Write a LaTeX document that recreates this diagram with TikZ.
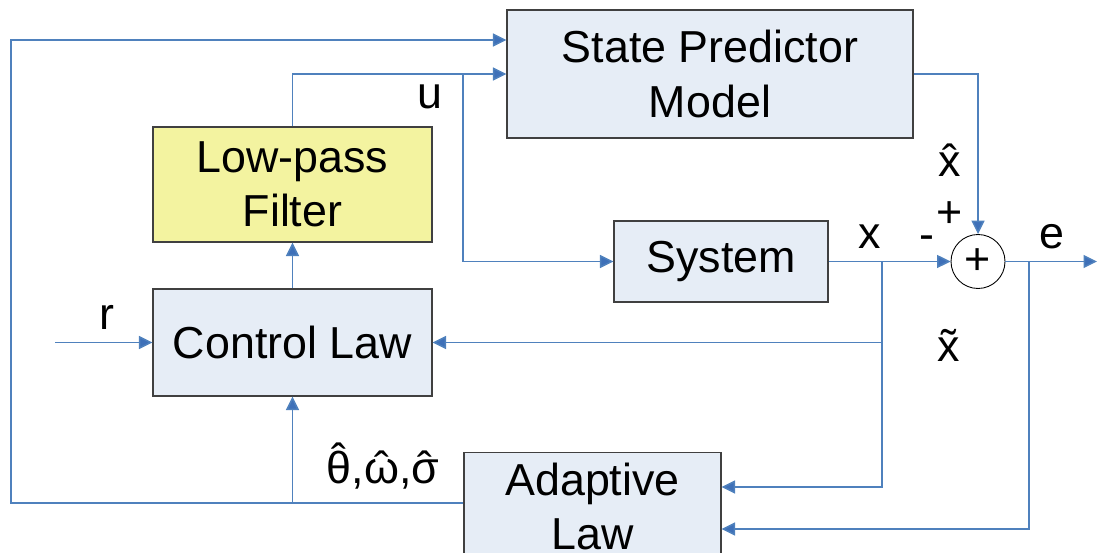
\documentclass[tikz,border=0pt]{standalone}
\usepackage{fontspec}
\setmainfont{Liberation Sans}
\usetikzlibrary{arrows.meta}

\definecolor{linkblue}{RGB}{79,129,189}
\definecolor{tipblue}{RGB}{62,112,184}
\definecolor{boxfill}{RGB}{230,237,246}
\definecolor{filterfill}{RGB}{243,243,160}
\definecolor{boxline}{RGB}{64,64,64}

\begin{document}
\begin{tikzpicture}[x=0.02cm,y=-0.02cm]

		\tikzset{block/.style = {shape=rectangle,fill=boxfill,draw=boxline,line width=0.7pt,align=center,inner sep=0pt,font=\fontsize{25.5}{31}\selectfont}}
		\tikzset{block2/.style = {block,fill=filterfill}}
		\tikzset{adder/.style = {shape=circle,draw=black,line width=0.5pt,minimum size=1.08cm,inner sep=0pt,font=\fontsize{25.5}{31}\selectfont}}
		\tikzset{edge/.style = {draw=linkblue,line width=0.85pt,-{Triangle[length=0.27cm,width=0.26cm,fill=tipblue]}}}
		\tikzset{wire/.style = {draw=linkblue,line width=0.85pt}}
		\tikzset{tag/.style = {inner sep=0pt,font=\fontsize{25.5}{31}\selectfont}}
		\useasboundingbox (0,0) rectangle (1097,553);
		% blocks
		\node[block] (spm) at (710,74) [minimum width=8.12cm,minimum height=2.56cm] {State Predictor\\Model};
		\node[block2] (lpf) at (292.5,184.5) [minimum width=5.58cm,minimum height=2.3cm] {Low-pass\\Filter};
		\node[block] (cl) at (292.5,342.5) [minimum width=5.58cm,minimum height=2.14cm] {Control Law};
		\node[block] (sys) at (721,261.5) [minimum width=4.28cm,minimum height=1.62cm] {System};
		\node[block,anchor=north] (al) at (592.5,452) [minimum width=5.14cm,minimum height=2.16cm] {Adaptive\\Law};
		\node[adder] (sum) at (978,261.5) {+};
		% branch points
		\coordinate (c1) at (11,503);
		\coordinate (c2) at (11,40);
		\coordinate (u) at (463,74);
		\coordinate (rin) at (55,342.5);
		\coordinate (xb) at (882,261.5);
		\coordinate (c3) at (882,487);
		\coordinate (eb) at (1029,261.5);
		\coordinate (c4) at (1029,529);
		\coordinate (eout) at (1097,261.5);
		% labels
		\node[tag] (lu) at (430,97) {u};
		\node[tag] (lx) at (870,237) {x};
		\node[tag] (le) at (1052,237) {e};
		\node[tag] (lr) at (107,317) {r};
		\node[tag] (lxh) at (950,160) {\accent"02C6 x};
		\node[tag] (lp) at (950,215) {+};
		\node[tag] (lm) at (927,243) {-};
		\node[tag] (lxt) at (949,345) {\accent"02DC x};
		\node[tag] (lest) at (383,466) {\accent"02C6 θ,\accent"02C6 ω,\accent"02C6 σ};
		%edges
		\draw[edge] (al.west |- c1) -- (c1) -- (c2) -- (c2 -| spm.west);
		\draw[edge] (cl.south |- c1) -- (cl.south);
		\draw[edge] (lpf.north) |- (spm.west);
		\draw[edge] (u) |- (sys.west);
		\draw[edge] (cl) -- (lpf);
		\draw[edge] (rin) -- (cl.west);
		\draw[edge] (sys.east) -- (sum.west);
		\draw[edge] (xb) |- (cl.east);
		\draw[edge] (xb) -- (c3) -- (c3 -| al.east);
		\draw[edge] (spm.east) -| (sum.north);
		\draw[edge] (sum.east) -- (eout);
		\draw[edge] (eb) -- (c4) -- (c4 -| al.east);
		\end{tikzpicture}
\end{document}
